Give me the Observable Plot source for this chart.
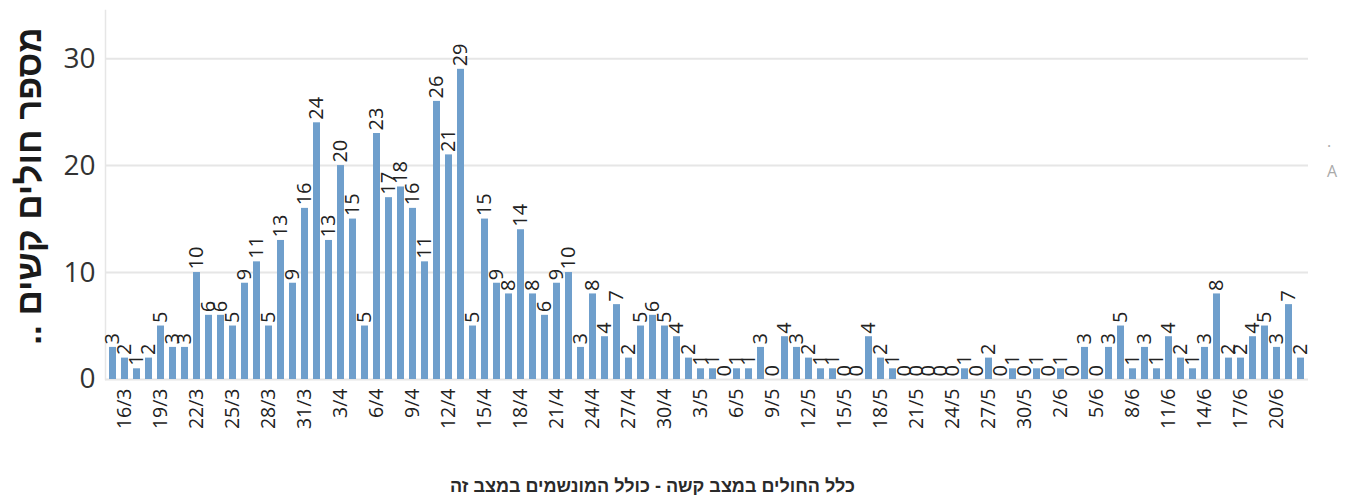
<!DOCTYPE html>
<html><head><meta charset="utf-8">
<script src="https://cdn.jsdelivr.net/npm/d3@7"></script>
<script src="https://cdn.jsdelivr.net/npm/@observablehq/plot@0.6"></script>
<style>
body{margin:0;background:#fff;font-family:"Open Sans",sans-serif;}
#wrap{position:relative;width:1348px;height:500px;overflow:hidden;}
#xtitle{position:absolute;left:0;top:476px;width:1305px;text-align:center;font-family:"Liberation Sans",Arial,sans-serif;font-weight:bold;font-size:18px;color:#2a2a2a;direction:rtl;}
#edge{position:absolute;left:1327px;top:126px;font-size:16px;line-height:30px;color:#aaa;}
</style></head><body>
<div id="wrap"><div id="chart"></div><div id="xtitle"></div><div id="edge">.<br>A</div></div>
<script>
// Daily values, 15/3 .. 22/6
const startDay = "2020-03-15";
const values = [3,2,1,2,5,3,3,10,6,6,5,9,11,5,13,9,16,24,13,20,15,5,23,17,18,16,11,26,21,29,5,15,9,8,14,8,6,9,10,3,8,4,7,2,5,6,5,4,2,1,1,0,1,1,3,0,4,3,2,1,1,0,0,4,2,1,0,0,0,0,0,1,0,2,0,1,0,1,0,1,0,3,0,3,5,1,3,1,4,2,1,3,8,2,2,4,5,3,7,2];
const tickLabels = ["16/3","19/3","22/3","25/3","28/3","31/3","3/4","6/4","9/4","12/4","15/4","18/4","21/4","24/4","27/4","30/4","3/5","6/5","9/5","12/5","15/5","18/5","21/5","24/5","27/5","30/5","2/6","5/6","8/6","11/6","14/6","17/6","20/6"];
const yTicks = [0,10,20,30];
const yTitle = "מספר חולים קשים ..";
const xTitle = "כלל החולים במצב קשה - כולל המונשמים במצב זה";

const fmt = d3.timeFormat("%-d/%-m");
const start = d3.timeParse("%Y-%m-%d")(startDay);
const dates = values.map((v, i) => fmt(d3.timeDay.offset(start, i)));
const rows = values.map((v, i) => ({date: dates[i], value: v}));

const chart = Plot.plot({
  width: 1348, height: 466,
  marginLeft: 105, marginRight: 40, marginTop: 10, marginBottom: 87,
  style: {fontFamily: "'Open Sans', sans-serif", color: "#333", background: "#fff"},
  x: {type: "band", domain: dates, paddingInner: 0.42, paddingOuter: 0.21},
  y: {domain: [0, 34.5]},
  marks: [
    Plot.gridY(yTicks, {stroke: "#e6e6e6", strokeOpacity: 1, strokeWidth: 2}),
    Plot.frame({anchor: "left", stroke: "#e6e6e6", strokeWidth: 1.5}),
    Plot.barY(rows, {x: "date", y: "value", fill: "#6f9fcc"}),
    Plot.text(rows, {x: "date", y: "value", text: d => String(d.value), rotate: -90, textAnchor: "start", dy: -3, fontSize: 20, fill: "#222"}),
    Plot.axisX({ticks: tickLabels, tickSize: 0, tickPadding: 9, tickRotate: -90, fontSize: 19.5, label: null, fill: "#222"}),
    Plot.axisY({ticks: yTicks, tickSize: 0, tickPadding: 10, fontSize: 28, label: null, fill: "#333"}),
    Plot.text([yTitle], {text: d => d, frameAnchor: "left", textAnchor: "middle", dx: -76, dy: -9, rotate: -90, fontSize: 35, fontWeight: "bold", fill: "#1a1a1a", fontFamily: "'Liberation Sans', Arial, sans-serif", className: "ytitle"})
  ]
});
d3.select(chart).selectAll(".ytitle text").each(function () {
  this.setAttribute("direction", "rtl");
  this.style.direction = "rtl";
  this.setAttribute("text-anchor", "middle");
});
document.getElementById("chart").appendChild(chart);
document.getElementById("xtitle").textContent = xTitle;
</script>
</body></html>
